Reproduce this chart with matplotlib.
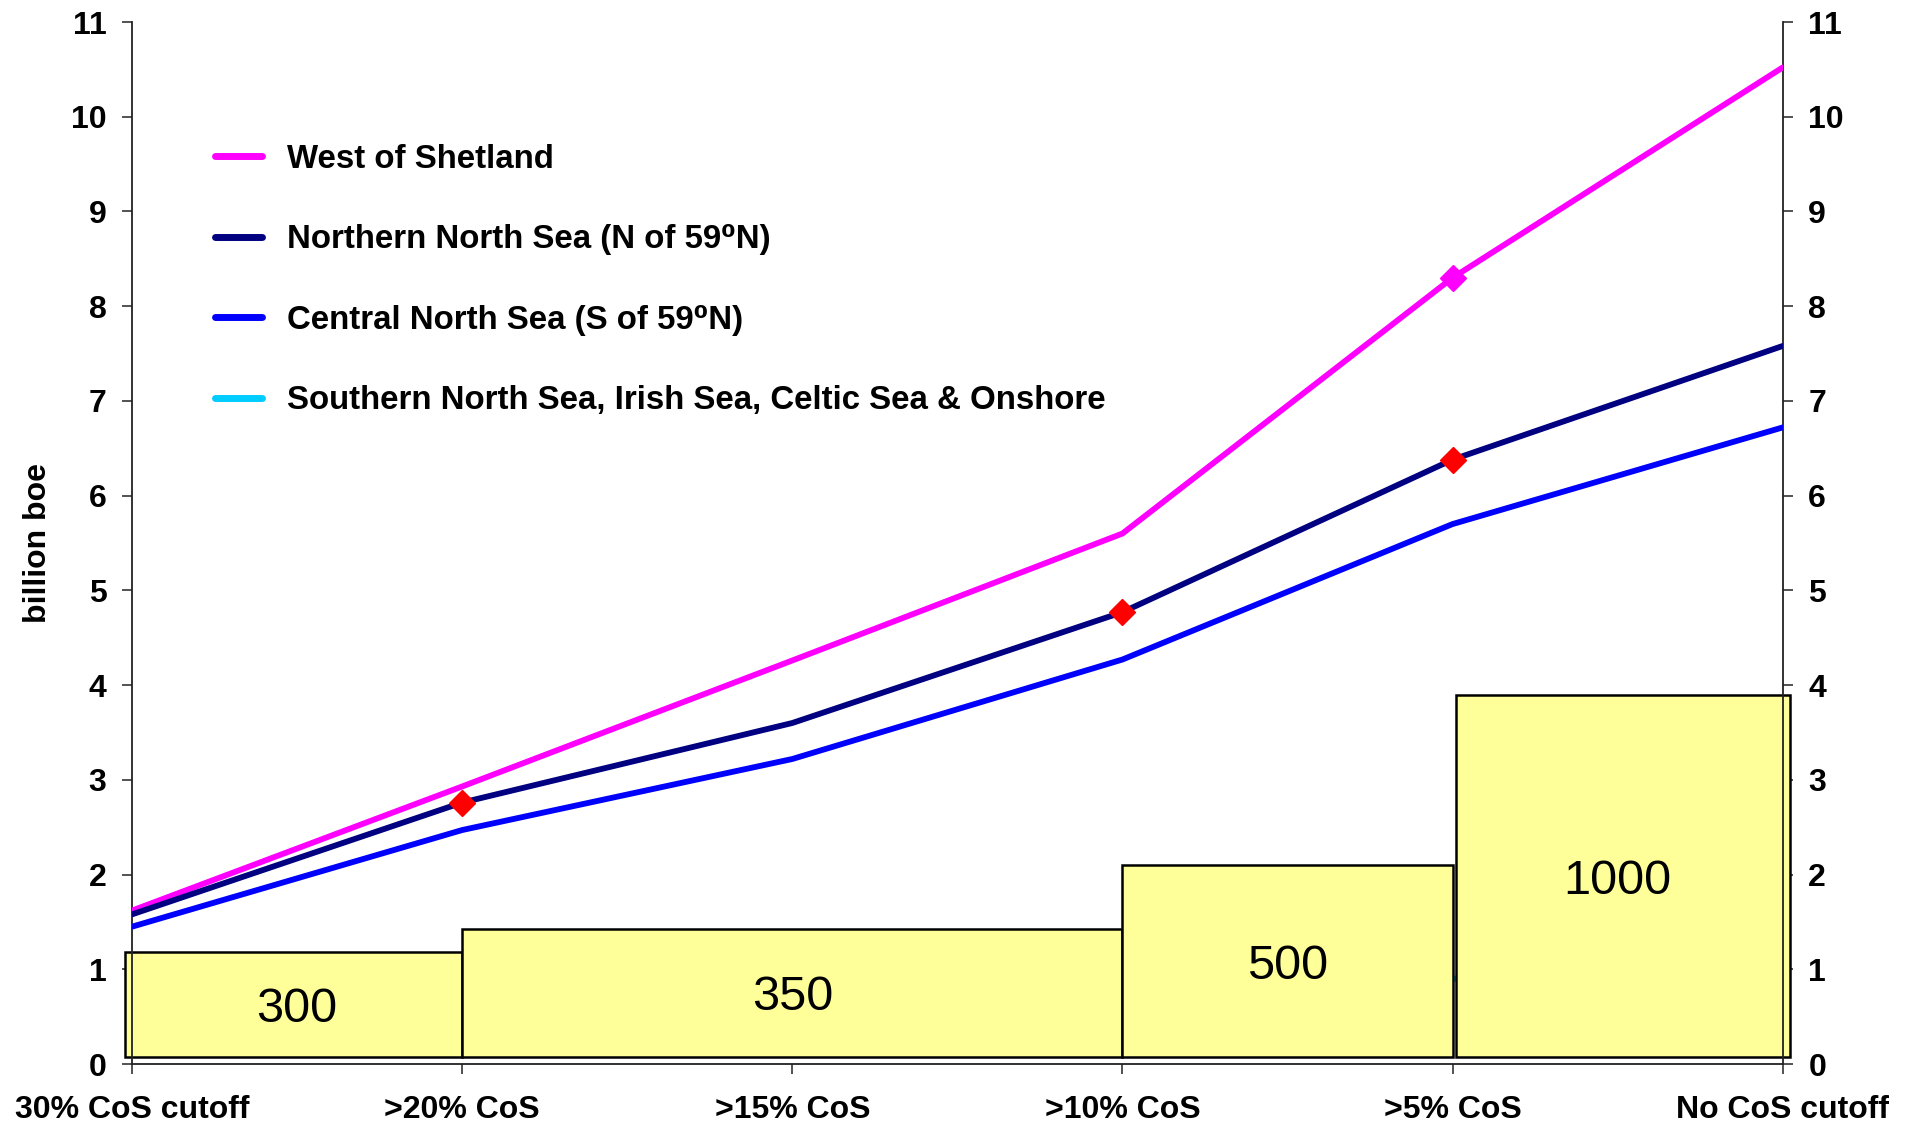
import matplotlib.pyplot as plt
from matplotlib.lines import Line2D

plt.rcParams['font.family'] = ['Liberation Sans', 'DejaVu Sans']

# categories along the x axis
categories = ["30% CoS cutoff", ">20% CoS", ">15% CoS", ">10% CoS", ">5% CoS", "No CoS cutoff"]

# billion boe per region
west_shetland = [1.62, 2.93, 4.26, 5.60, 8.30, 10.52]
northern_ns = [1.58, 2.76, 3.60, 4.77, 6.38, 7.58]
central_ns = [1.45, 2.47, 3.22, 4.27, 5.70, 6.72]
southern_ns = [0.30, 0.45, 0.60, 0.75, 0.90, 1.00]

# highlighted points (category index)
northern_marks = [1, 3, 4]
west_marks = [4]

# yellow blocks: start / end category index, height, label
block_start = [0, 1, 3, 4]
block_end = [1, 3, 4, 5]
block_height = [1.18, 1.42, 2.10, 3.90]
block_label = ["300", "350", "500", "1000"]
block_label_y = [0.58, 0.70, 1.03, 1.93]

fig = plt.figure(figsize=(19.17, 11.30), dpi=100)
ax = fig.add_axes([0.0689, 0.0584, 0.861, 0.9221])

x = list(range(len(categories)))
lw = 4.2

ax.plot(x, southern_ns, color="#00CCFF", lw=lw, zorder=1, solid_capstyle="round")

# blocks
pad = 0.021
for i in range(len(block_height)):
    left = block_start[i] - (pad if i == 0 else 0) + (0.01 if i == 3 else 0)
    right = block_end[i] + (pad if i == len(block_height) - 1 else 0)
    ax.bar(left, block_height[i] - 0.074, width=right - left, bottom=0.074, align="edge",
           color="#FFFF99", edgecolor="black", linewidth=1.8, zorder=2, clip_on=False)
    ax.text((block_start[i] + block_end[i]) / 2, block_label_y[i], block_label[i],
            ha="center", va="center", fontsize=35, zorder=3)

ax.plot(x, west_shetland, color="#FF00FF", lw=lw, zorder=4, solid_capstyle="round")
ax.plot(x, northern_ns, color="#000080", lw=lw, zorder=4, solid_capstyle="round")
ax.plot(x, central_ns, color="#0000FF", lw=lw, zorder=4, solid_capstyle="round")

ax.plot(west_marks, [west_shetland[i] for i in west_marks], ls="none", marker="D",
        color="#FF00FF", ms=13, zorder=5)
ax.plot(northern_marks, [northern_ns[i] for i in northern_marks], ls="none", marker="D",
        color="#FF0000", ms=13, zorder=5)

ax.set_xlim(0, 5)
ax.set_ylim(0, 11)
ax.set_xticks(x)
ax.set_xticklabels(categories, fontsize=23, fontweight="bold")
ax.set_yticks(range(0, 12))
ax.set_yticklabels([str(v) for v in range(0, 12)], fontsize=23, fontweight="bold")
ax.tick_params(axis="both", direction="out", length=7.5, width=1.3, color="#444444")
ax.tick_params(axis="y", pad=11, labelright=True, right=True)
ax.tick_params(axis="x", pad=15)
ax.spines["top"].set_visible(False)
for s in ["left", "right", "bottom"]:
    ax.spines[s].set_linewidth(1.3)
    ax.spines[s].set_color("#222222")
ax.set_ylabel("billion boe", fontsize=23, fontweight="bold")
ax.yaxis.set_label_coords(-0.048, 0.5)

handles = [
    Line2D([], [], color="#FF00FF", lw=5, solid_capstyle="round"),
    Line2D([], [], color="#000080", lw=5, solid_capstyle="round"),
    Line2D([], [], color="#0000FF", lw=5, solid_capstyle="round"),
    Line2D([], [], color="#00CCFF", lw=5, solid_capstyle="round"),
]
labels = [
    "West of Shetland",
    "Northern North Sea (N of 59\u2070N)",
    "Central North Sea (S of 59\u2070N)",
    "Southern North Sea, Irish Sea, Celtic Sea & Onshore",
]
ax.legend(handles, labels, loc="upper left", bbox_to_anchor=(0.105, 0.8845),
          bbox_transform=fig.transFigure, frameon=False,
          prop={"size": 23.8, "weight": "bold"}, handlelength=1.45, handletextpad=0.75,
          labelspacing=1.5, borderpad=0.4, borderaxespad=0)

fig.savefig("out.png", dpi=100)
